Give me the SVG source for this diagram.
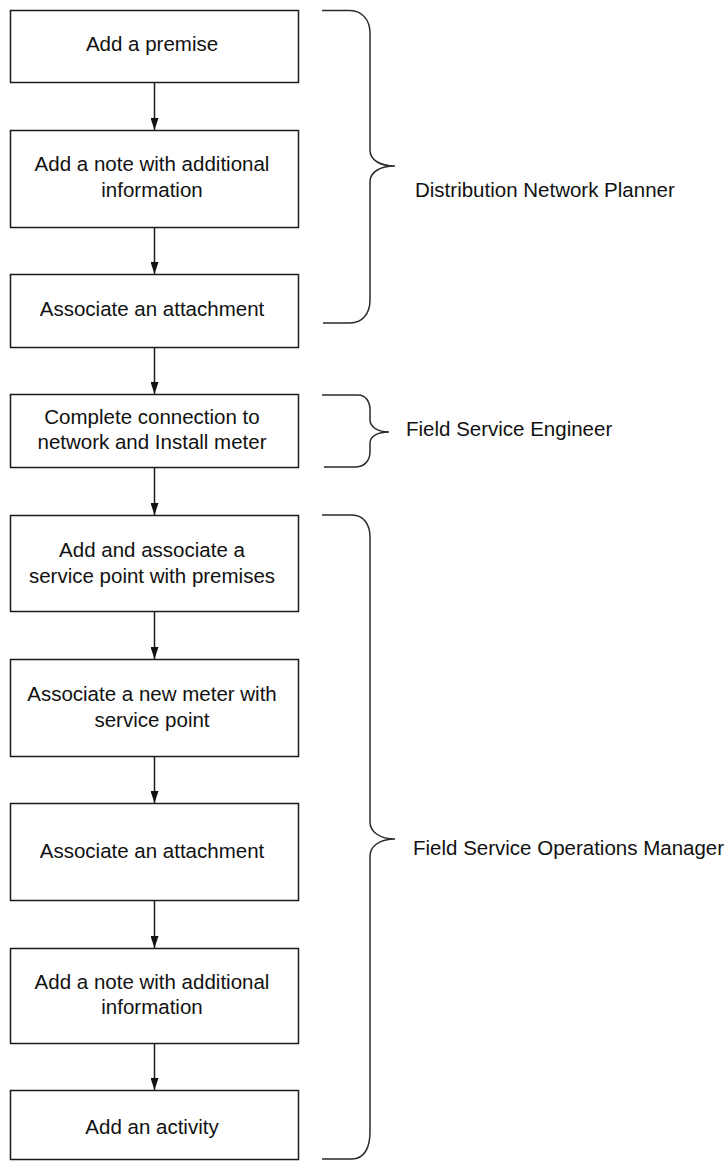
<svg xmlns="http://www.w3.org/2000/svg" width="727" height="1161" viewBox="0 0 727 1161">
  <style>
    .box { fill: #ffffff; stroke: #1a1a1a; stroke-width: 1.5; }
    .lbl { font-family: "Liberation Sans", Arial, sans-serif; font-size: 20.5px; fill: #111111; text-anchor: middle; }
    .role { font-family: "Liberation Sans", Arial, sans-serif; font-size: 20.5px; fill: #111111; }
    .flow { stroke: #1a1a1a; stroke-width: 1.5; fill: none; marker-end: url(#head); }
    .brace { stroke: #2a2a2a; stroke-width: 1.5; fill: none; }
  </style>
  <defs>
    <marker id="head" viewBox="0 0 12 8" refX="12" refY="4" markerWidth="12" markerHeight="8" markerUnits="userSpaceOnUse" orient="auto">
      <path d="M0,0 L12,4 L0,8 z" fill="#111111"/>
    </marker>
  </defs>
  <rect width="727" height="1161" fill="#ffffff"/>

  <!-- process steps -->
  <g id="step-add-premise">
    <rect class="box" x="10.5" y="10.5" width="288" height="72"/>
    <text class="lbl" x="152" y="51">Add a premise</text>
  </g>
  <g id="step-add-note-1">
    <rect class="box" x="10.5" y="130.5" width="288" height="97"/>
    <text class="lbl" x="152" y="171">Add a note with additional</text>
    <text class="lbl" x="152" y="197">information</text>
  </g>
  <g id="step-attachment-1">
    <rect class="box" x="10.5" y="274.5" width="288" height="73"/>
    <text class="lbl" x="152" y="316">Associate an attachment</text>
  </g>
  <g id="step-connect-install">
    <rect class="box" x="10.5" y="394.5" width="288" height="73"/>
    <text class="lbl" x="152" y="424">Complete connection to</text>
    <text class="lbl" x="152" y="449">network and Install meter</text>
  </g>
  <g id="step-service-point">
    <rect class="box" x="10.5" y="515.5" width="288" height="96"/>
    <text class="lbl" x="152" y="557">Add and associate a</text>
    <text class="lbl" x="152" y="583">service point with premises</text>
  </g>
  <g id="step-new-meter">
    <rect class="box" x="10.5" y="659.5" width="288" height="97"/>
    <text class="lbl" x="152" y="701">Associate a new meter with</text>
    <text class="lbl" x="152" y="727">service point</text>
  </g>
  <g id="step-attachment-2">
    <rect class="box" x="10.5" y="803.5" width="288" height="97"/>
    <text class="lbl" x="152" y="858">Associate an attachment</text>
  </g>
  <g id="step-add-note-2">
    <rect class="box" x="10.5" y="948.5" width="288" height="95"/>
    <text class="lbl" x="152" y="989">Add a note with additional</text>
    <text class="lbl" x="152" y="1014">information</text>
  </g>
  <g id="step-add-activity">
    <rect class="box" x="10.5" y="1090.5" width="288" height="69"/>
    <text class="lbl" x="152" y="1134">Add an activity</text>
  </g>

  <!-- flow arrows between steps -->
  <g id="connectors">
    <path class="flow" d="M154.5,83 V130"/>
    <path class="flow" d="M154.5,228 V274"/>
    <path class="flow" d="M154.5,348 V394"/>
    <path class="flow" d="M154.5,468 V515"/>
    <path class="flow" d="M154.5,612 V659"/>
    <path class="flow" d="M154.5,757 V803"/>
    <path class="flow" d="M154.5,901 V948"/>
    <path class="flow" d="M154.5,1044 V1090"/>
  </g>

  <!-- role brackets -->
  <g id="role-planner">
    <path class="brace" d="M322,10.5 H350 C362,10.5 370,20 370,33 V150 C370,160 380,166 395,166 C380,166 370,172 370,182 V300 C370,314 362,323 350,323 H323"/>
    <text class="role" x="415" y="197">Distribution Network Planner</text>
  </g>
  <g id="role-engineer">
    <path class="brace" d="M322,395 H358 C366,395 370,402 370,410 V420 C370,427 378,432 389,432 C378,432 370,436 370,443 V452 C370,461 364,467 355,467 H324"/>
    <text class="role" x="406" y="436">Field Service Engineer</text>
  </g>
  <g id="role-ops-manager">
    <path class="brace" d="M322,515 H352 C364,515 370,525 370,537 V822 C370,832 380,839 395,839 C380,839 370,846 370,856 V1132 C370,1148 364,1159 352,1159 H322"/>
    <text class="role" x="413" y="855">Field Service Operations Manager</text>
  </g>
</svg>
